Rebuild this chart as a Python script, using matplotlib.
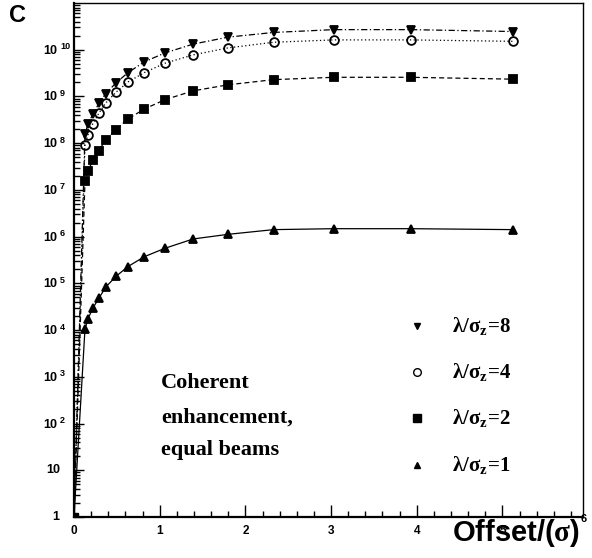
import matplotlib
matplotlib.use("Agg")
import matplotlib.pyplot as plt
from matplotlib.ticker import FixedLocator, FixedFormatter, MultipleLocator, NullFormatter, LogLocator
from matplotlib.lines import Line2D
from matplotlib.transforms import blended_transform_factory, offset_copy
import numpy as np

plt.rcParams['mathtext.fontset'] = 'custom'
plt.rcParams['mathtext.rm'] = 'Liberation Serif:bold'
plt.rcParams['mathtext.bf'] = 'Liberation Sans:bold'
plt.rcParams['mathtext.it'] = 'Liberation Serif:bold'

# ---- data ----
offset = [0.0, 0.128, 0.163, 0.22, 0.29, 0.37, 0.49, 0.63, 0.82, 1.06, 1.39,
          1.80, 2.33, 3.03, 3.93, 5.12]
log_l8 = [0.0, 8.19, 8.41, 8.62, 8.85, 9.06, 9.29, 9.51, 9.74, 9.93, 10.12,
          10.27, 10.37, 10.43, 10.43, 10.39]
log_l4 = [0.0, 7.97, 8.18, 8.42, 8.64, 8.86, 9.09, 9.31, 9.51, 9.71, 9.89,
          10.04, 10.16, 10.21, 10.21, 10.18]
log_l2 = [0.0, 7.18, 7.41, 7.63, 7.84, 8.07, 8.29, 8.52, 8.73, 8.93, 9.12,
          9.25, 9.36, 9.41, 9.41, 9.37]
log_l1 = [0.0, 4.02, 4.24, 4.47, 4.68, 4.92, 5.15, 5.36, 5.57, 5.75, 5.95,
          6.05, 6.15, 6.17, 6.17, 6.15]
series_labels = [r'$\mathrm{\lambda/\sigma_z\!=\!8}$', r'$\mathrm{\lambda/\sigma_z\!=\!4}$',
                 r'$\mathrm{\lambda/\sigma_z\!=\!2}$', r'$\mathrm{\lambda/\sigma_z\!=\!1}$']
xtick_vals = [0, 1, 2, 3, 4, 5]
xtick_labels = ['0', '1', '2', '3', '4', '5']
ytick_exps = list(range(0, 11))
annotation = ["Coherent", "enhancement,", "equal beams"]
xlabel = r'Offset/($\sigma$)'

W, H = 592, 558
fig = plt.figure(figsize=(W / 100, H / 100), dpi=100)
ax = fig.add_axes([74 / W, 1 - 517 / H, (583 - 74) / W, (517 - 3) / H])

x = np.array(offset)
styles = [
    (log_l8, 'v', 'k', 'k', (0, (5, 2, 1, 2))),
    (log_l4, 'o', 'none', 'k', (0, (1, 2))),
    (log_l2, 's', 'k', 'k', (0, (4, 2.5))),
    (log_l1, '^', 'k', 'k', '-'),
]
for vals, mk, fc, ec, ls in styles:
    y = 10.0 ** np.array(vals)
    ax.plot(x, y, color='k', lw=0.9, ls=ls, zorder=2)
    ax.plot(x[1:], y[1:], ls='none', marker=mk, ms=6.3, mfc=fc, mec=ec, mew=1.3, zorder=3)
ax.plot([x[0]], [10.0 ** log_l2[0]], ls='none', marker='s', ms=6.3, color='k', zorder=3)

ax.set_yscale('log')
ax.set_xlim(0, 5.94)
ax.set_ylim(1, 1e11)

# ticks
ax.xaxis.set_major_locator(FixedLocator(xtick_vals))
ax.xaxis.set_major_formatter(FixedFormatter(xtick_labels))
ax.xaxis.set_minor_locator(MultipleLocator(0.2))
ax.yaxis.set_major_locator(FixedLocator([10.0 ** e for e in ytick_exps]))
ax.yaxis.set_major_formatter(NullFormatter())
ax.yaxis.set_minor_locator(LogLocator(base=10, subs=np.arange(2, 10), numticks=30))
ax.yaxis.set_minor_formatter(NullFormatter())
ax.tick_params(axis='both', which='both', direction='in', top=False, right=False)
ax.tick_params(axis='x', which='major', length=9, width=1, labelsize=8.5, pad=6)
ax.tick_params(axis='x', which='minor', length=4.5, width=1)
ax.tick_params(axis='y', which='major', length=7, width=1)
ax.tick_params(axis='y', which='minor', length=4, width=1)
for lab in ax.get_xticklabels():
    lab.set_fontfamily('Liberation Sans')
    lab.set_fontweight('bold')

# y tick labels drawn ROOT-style: base "10" plus raised exponent
ytr = blended_transform_factory(fig.transFigure, ax.transData)
for e in ytick_exps:
    v = 10.0 ** e
    if e == 0:
        ax.text(59 / W, v, '1', transform=ytr, ha='right', va='center', fontsize=9,
                fontweight='bold', family='Liberation Sans')
    elif e == 1:
        ax.text(60 / W, v, '10', transform=ytr, ha='right', va='center', fontsize=9,
                fontweight='bold', family='Liberation Sans')
    else:
        ax.text(57 / W, v, '10', transform=offset_copy(ytr, fig=fig, y=-1, units='dots'),
                ha='right', va='center', fontsize=9, fontweight='bold', family='Liberation Sans')
        ax.text(60 / W, v, str(e), transform=offset_copy(ytr, fig=fig, y=3, units='dots'),
                ha='left', va='center', fontsize=6.5, fontweight='bold', family='Liberation Sans')

for side in ['left', 'bottom']:
    ax.spines[side].set_linewidth(1.6)
for side in ['top', 'right']:
    ax.spines[side].set_linewidth(1.0)

# "6" tick label just beyond the frame
fig.text(584 / W, 1 - 519 / H, '6', ha='center', va='center',
         fontsize=8, fontweight='bold', family='Liberation Sans')

# x label
fig.text(580 / W, 1 - 533 / H, xlabel, ha='right', va='center', fontsize=21,
         fontweight='bold', family='Liberation Sans')

# truncated y title glyph
fig.text(9 / W, 1 - 15 / H, 'C', ha='left', va='center', fontsize=17,
         fontweight='bold', family='Liberation Sans')

# annotation
for yy, line in zip([383, 418, 450], annotation):
    fig.text(161 / W, 1 - yy / H, line, ha='left', va='center', fontsize=16,
             fontweight='bold', family='Liberation Serif')

# legend (manual)
leg_y = [326, 372, 418, 465]
leg_mk = [('v', 'k', 'k', 4.5), ('o', 'none', 'k', 5.5), ('s', 'k', 'k', 5.5), ('^', 'k', 'k', 4.5)]
for yy, (mk, fc, ec, ms), lab in zip(leg_y, leg_mk, series_labels):
    fig.lines.append(Line2D([417 / W], [1 - yy / H], marker=mk, ms=ms, mfc=fc,
                            mec=ec, mew=1.0, ls='none', transform=fig.transFigure))
    fig.text(452 / W, 1 - yy / H, lab, ha='left', va='center', fontsize=15)

fig.savefig('out.png', dpi=100)
